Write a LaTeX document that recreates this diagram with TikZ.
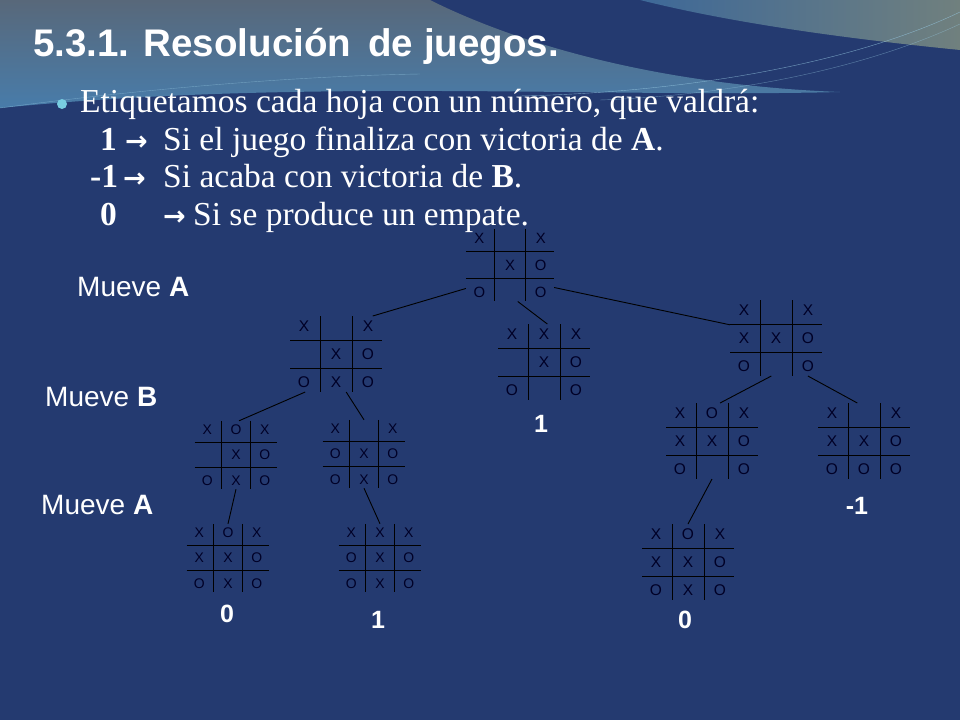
\documentclass[tikz,border=0pt]{standalone}
\usepackage{fontspec}
\setmainfont{Liberation Serif}
\setsansfont{Liberation Sans}
\newfontfamily\symfont{DejaVu Sans}

\definecolor{slideblue}{RGB}{36,58,112}
\definecolor{topgray}{RGB}{88,104,122}
\definecolor{steel}{RGB}{72,124,170}
\definecolor{sage}{RGB}{112,128,126}
\definecolor{bulletcyan}{RGB}{120,205,225}
\definecolor{swoosh}{RGB}{150,200,225}

\tikzset{
  boardbox/.style={rectangle,inner sep=0pt,outer sep=0pt},
  gridline/.style={black,line width=0.9pt},
  boardmark/.style={font=\sffamily\fontsize{15.5}{15.5}\selectfont,text=black!85!blue,inner sep=0pt,transform shape},
  edgeline/.style={black,line width=0.9pt},
  leafvalue/.style={font=\sffamily\bfseries\fontsize{25}{25}\selectfont,text=white,inner sep=0pt},
  movelabel/.style={font=\sffamily\fontsize{28}{28}\selectfont,text=white,inner sep=0pt,anchor=west},
  bodytext/.style={font=\fontsize{33.5}{38}\selectfont,text=white,inner sep=0pt,anchor=base west},
}

\newcommand{\arr}{{\symfont\bfseries\fontsize{27}{27}\selectfont\char"2192}}

% board: [scale]{name}{centre}{nine cells, row by row}
\newcommand{\board}[4][1]{%
  \begin{scope}[shift={(#3)},scale=#1]
    \node[boardbox,minimum width=#1*92pt,minimum height=#1*76pt] (#2) at (0,0) {};
    \draw[gridline] (-16,-38) -- (-16,38) (16,-38) -- (16,38)
                    (-46,-14) -- (46,-14) (-46,14) -- (46,14);
    \foreach \m [count=\i from 0] in {#4} {
      \pgfmathtruncatemacro\col{mod(\i,3)-1}
      \pgfmathtruncatemacro\row{div(\i,3)-1}
      \node[boardmark] at (32*\col,28*\row) {\m};
    }
  \end{scope}}

\begin{document}
\begin{tikzpicture}[x=1pt,y=-1pt]
\useasboundingbox (0,0) rectangle (960,720);
% background
\fill[slideblue] (0,0) rectangle (960,720);
\shade[top color=topgray,bottom color=steel] (0,0) -- (430,0) .. controls (520,45) and (660,85) .. (840,92)
      .. controls (600,98) and (300,78) .. (0,108) -- cycle;
\shade[left color=steel!70!slideblue,right color=sage] (640,0) -- (960,0) -- (960,50)
      .. controls (860,40) and (740,25) .. (640,0) -- cycle;
\draw[swoosh,opacity=0.7] (960,12) .. controls (860,60) and (700,92) .. (520,96);
\draw[swoosh,opacity=0.5] (960,24) .. controls (870,66) and (740,95) .. (600,100);
\draw[swoosh,opacity=0.5] (0,108) .. controls (150,88) and (300,76) .. (420,74);

\node[font=\sffamily\bfseries\fontsize{38.5}{44}\selectfont,text=white,anchor=base west,inner sep=0pt] (title) at (33,56) {5.3.1. Resolución\, de juegos.};

\fill[bulletcyan] (62,104) circle (5);
\node[bodytext] (line1) at (80,112) {Etiquetamos cada hoja con un número, que valdrá:};
\node[bodytext] (line2) at (100,150) {\makebox[25pt][l]{\textbf{1}}\makebox[38pt][l]{\arr}Si el juego finaliza con victoria de \textbf{A}.};
\node[bodytext] (line3) at (90,187) {\makebox[33pt][l]{\textbf{-1}}\makebox[40pt][l]{\arr}Si acaba con victoria de \textbf{B}.};
\node[bodytext] (line4) at (100,225) {\makebox[63pt][l]{\textbf{0}}\makebox[30pt][l]{\arr}Si se produce un empate.};

\node[movelabel] (move1) at (77,287) {Mueve \textbf{A}};
\node[movelabel] (move2) at (45,397) {Mueve \textbf{B}};
\node[movelabel] (move3) at (41,505) {Mueve \textbf{A}};

\board[0.96]{root}{510,265}{X,{},X,{},X,O,O,{},O}
\board{b1}{336,354}{X,{},X,{},X,O,O,X,O}
\board{b2}{544,362}{X,X,X,{},X,O,O,{},O}
\board{b3}{776,338}{X,{},X,X,X,O,O,{},O}
\board[0.9]{c1}{236,455}{X,O,X,{},X,O,O,X,O}
\board[0.9]{c2}{364,454}{X,{},X,O,X,O,O,X,O}
\board{c3}{712,441}{X,O,X,X,X,O,O,{},O}
\board{c4}{864,441}{X,{},X,X,X,O,O,O,O}
\board[0.9]{d1}{228,558}{X,O,X,X,X,O,O,X,O}
\board[0.9]{d2}{380,558}{X,X,X,O,X,O,O,X,O}
\board{d3}{688,562}{X,O,X,X,X,O,O,X,O}

\draw[edgeline] (root.208) -- (b1.46);
\draw[edgeline] (root.282) -- (b2.85);
\draw[edgeline] (root.333) -- (b3.164);
\draw[edgeline] (b1.231) -- (c1.85);
\draw[edgeline] (b1.285) -- (c2.north);
\draw[edgeline] (b3.263) -- (c3.78);
\draw[edgeline] (b3.310) -- (c4.100);
\draw[edgeline] (c1.south) -- (d1.north);
\draw[edgeline] (c2.south) -- (d2.north);
\draw[edgeline] (c3.south) -- (d3.north);

\node[leafvalue] (val2) at (541,424) {1};
\node[leafvalue] (val4) at (857,506) {-1};
\node[leafvalue] (vald1) at (227,614) {0};
\node[leafvalue] (vald2) at (378,620) {1};
\node[leafvalue] (vald3) at (685,620) {0};
\end{tikzpicture}
\end{document}
